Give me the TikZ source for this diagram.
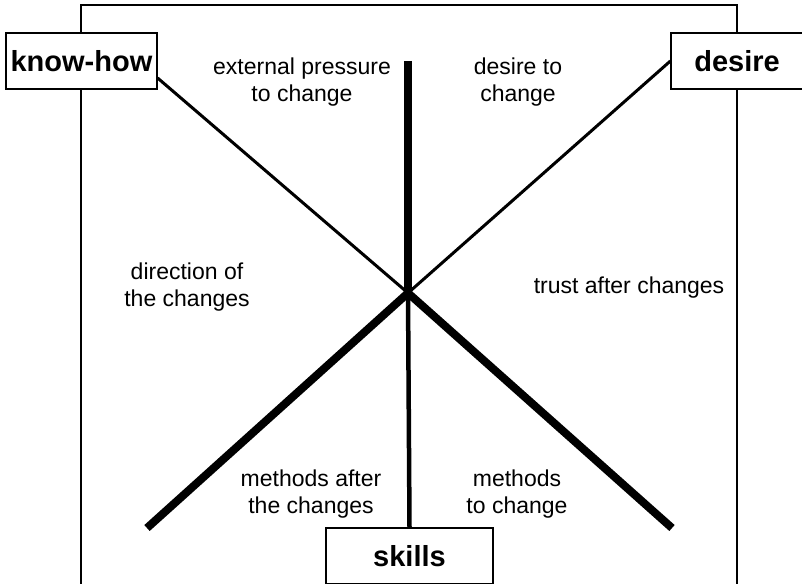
\documentclass[tikz,border=0pt]{standalone}
\usepackage{fontspec}
\setmainfont{Liberation Sans}

\begin{document}
\begin{tikzpicture}[x=1pt,y=-1pt,
  box/.style={draw,line width=1.2pt,fill=white,minimum height=56pt,inner sep=0pt,font=\fontsize{29}{32}\selectfont\bfseries},
  txt/.style={align=center,font=\fontsize{23}{27}\selectfont}]
  \useasboundingbox (0,0) rectangle (802,583);
  \clip (0,0) rectangle (802,583);
  \draw[line width=1.2pt] (81,5) rectangle (737,640);
  % centre of the star and loose ends
  \coordinate (hub) at (408,293);
  \coordinate (top) at (408,61);
  \coordinate (ll) at (147,528);
  \coordinate (lr) at (672,528);
  \node[box,minimum width=151pt] (knowhow) at (81.5,61) {know-how};
  \node[box,minimum width=132pt] (desire) at (737,61) {desire};
  \node[box,minimum width=167pt] (skills) at (409.5,556) {skills};
  \draw[line width=3pt] ([yshift=-17pt]knowhow.east) -- (hub);
  \draw[line width=3pt] (desire.west) -- (hub);
  \draw[line width=8pt] (top) -- (hub);
  \draw[line width=8pt] (hub) -- (ll);
  \draw[line width=8pt] (hub) -- (lr);
  \draw[line width=4.5pt] (hub) -- (skills.north);
  \node[txt] (pressure) at (302,82) {external pressure\\to change};
  \node[txt] (wish) at (518,82) {desire to\\change};
  \node[txt] (direction) at (187,287) {direction of\\the changes};
  \node[txt] (trust) at (629,288) {trust after changes};
  \node[txt] (after) at (311,494) {methods after\\the changes};
  \node[txt] (methods) at (517,494) {methods\\to change};
\end{tikzpicture}
\end{document}
